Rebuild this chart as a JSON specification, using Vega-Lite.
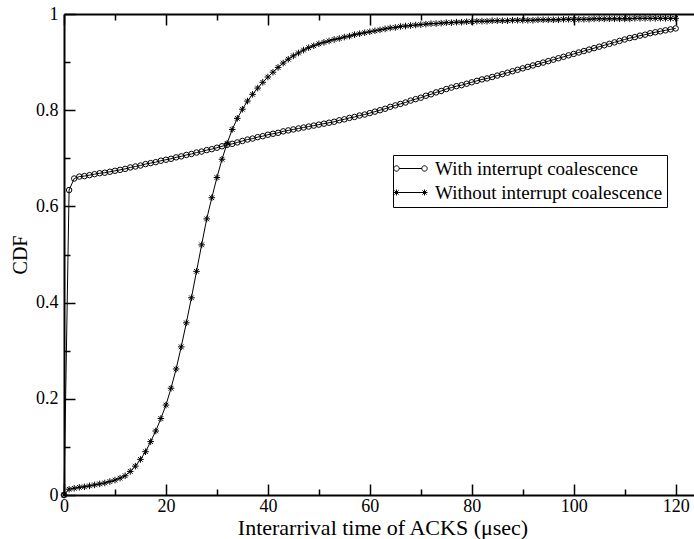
{
  "$schema": "https://vega.github.io/schema/vega-lite/v6.json",
  "width": 630,
  "height": 481,
  "autosize": {"type": "none"},
  "padding": {"left": 64, "top": 14, "right": 0, "bottom": 44},
  "background": "white",
  "config": {"view": {"stroke": null}, "font": "Liberation Serif",
    "axis": {"grid": false, "domainColor": "black", "domainWidth": 2, "tickColor": "black", "tickWidth": 1.5, "labelFont": "Liberation Serif", "labelColor": "black", "labelFlush": false, "labelOverlap": false, "titleFont": "Liberation Serif", "titleFontWeight": "normal", "titleColor": "black"}},
  "data": {"values": [
    {"x":0,"w":0,"wo":0},{"x":1,"w":0.634,"wo":0.012},{"x":2,"w":0.658,"wo":0.014},{"x":3,"w":0.662,"wo":0.016},{"x":4,"w":0.663,"wo":0.017},
    {"x":5,"w":0.665,"wo":0.019},{"x":6,"w":0.667,"wo":0.021},{"x":7,"w":0.669,"wo":0.023},{"x":8,"w":0.670,"wo":0.025},{"x":9,"w":0.672,"wo":0.028},
    {"x":10,"w":0.674,"wo":0.031},{"x":11,"w":0.676,"wo":0.035},{"x":12,"w":0.678,"wo":0.040},{"x":13,"w":0.681,"wo":0.049},{"x":14,"w":0.683,"wo":0.060},
    {"x":15,"w":0.685,"wo":0.074},{"x":16,"w":0.688,"wo":0.090},{"x":17,"w":0.690,"wo":0.111},{"x":18,"w":0.692,"wo":0.133},{"x":19,"w":0.695,"wo":0.159},
    {"x":20,"w":0.697,"wo":0.187},{"x":21,"w":0.699,"wo":0.222},{"x":22,"w":0.702,"wo":0.262},{"x":23,"w":0.704,"wo":0.308},{"x":24,"w":0.707,"wo":0.358},
    {"x":25,"w":0.709,"wo":0.410},{"x":26,"w":0.712,"wo":0.465},{"x":27,"w":0.714,"wo":0.520},{"x":28,"w":0.717,"wo":0.574},{"x":29,"w":0.719,"wo":0.618},
    {"x":30,"w":0.722,"wo":0.660},{"x":31,"w":0.725,"wo":0.698},{"x":32,"w":0.728,"wo":0.731},{"x":33,"w":0.730,"wo":0.760},{"x":34,"w":0.733,"wo":0.783},
    {"x":35,"w":0.736,"wo":0.802},{"x":36,"w":0.739,"wo":0.819},{"x":37,"w":0.741,"wo":0.833},{"x":38,"w":0.744,"wo":0.846},{"x":39,"w":0.746,"wo":0.858},
    {"x":40,"w":0.749,"wo":0.869},{"x":41,"w":0.751,"wo":0.879},{"x":42,"w":0.753,"wo":0.889},{"x":43,"w":0.756,"wo":0.898},{"x":44,"w":0.758,"wo":0.906},
    {"x":45,"w":0.760,"wo":0.913},{"x":46,"w":0.762,"wo":0.919},{"x":47,"w":0.764,"wo":0.925},{"x":48,"w":0.766,"wo":0.930},{"x":49,"w":0.768,"wo":0.934},
    {"x":50,"w":0.770,"wo":0.938},{"x":51,"w":0.772,"wo":0.941},{"x":52,"w":0.774,"wo":0.944},{"x":53,"w":0.776,"wo":0.947},{"x":54,"w":0.779,"wo":0.949},
    {"x":55,"w":0.781,"wo":0.952},{"x":56,"w":0.784,"wo":0.954},{"x":57,"w":0.786,"wo":0.957},{"x":58,"w":0.789,"wo":0.959},{"x":59,"w":0.791,"wo":0.961},
    {"x":60,"w":0.794,"wo":0.963},{"x":61,"w":0.797,"wo":0.965},{"x":62,"w":0.800,"wo":0.967},{"x":63,"w":0.803,"wo":0.969},{"x":64,"w":0.807,"wo":0.971},
    {"x":65,"w":0.810,"wo":0.972},{"x":66,"w":0.813,"wo":0.974},{"x":67,"w":0.816,"wo":0.975},{"x":68,"w":0.820,"wo":0.976},{"x":69,"w":0.823,"wo":0.977},
    {"x":70,"w":0.826,"wo":0.978},{"x":71,"w":0.830,"wo":0.979},{"x":72,"w":0.833,"wo":0.980},{"x":73,"w":0.837,"wo":0.980},{"x":74,"w":0.840,"wo":0.981},
    {"x":75,"w":0.844,"wo":0.982},{"x":76,"w":0.847,"wo":0.982},{"x":77,"w":0.850,"wo":0.983},{"x":78,"w":0.852,"wo":0.983},{"x":79,"w":0.855,"wo":0.984},
    {"x":80,"w":0.858,"wo":0.984},{"x":81,"w":0.861,"wo":0.985},{"x":82,"w":0.864,"wo":0.985},{"x":83,"w":0.866,"wo":0.985},{"x":84,"w":0.869,"wo":0.986},
    {"x":85,"w":0.872,"wo":0.986},{"x":86,"w":0.875,"wo":0.986},{"x":87,"w":0.878,"wo":0.986},{"x":88,"w":0.881,"wo":0.987},{"x":89,"w":0.884,"wo":0.987},
    {"x":90,"w":0.887,"wo":0.987},{"x":91,"w":0.890,"wo":0.987},{"x":92,"w":0.893,"wo":0.987},{"x":93,"w":0.896,"wo":0.988},{"x":94,"w":0.899,"wo":0.988},
    {"x":95,"w":0.902,"wo":0.988},{"x":96,"w":0.905,"wo":0.988},{"x":97,"w":0.908,"wo":0.988},{"x":98,"w":0.911,"wo":0.989},{"x":99,"w":0.914,"wo":0.989},
    {"x":100,"w":0.917,"wo":0.989},{"x":101,"w":0.920,"wo":0.989},{"x":102,"w":0.923,"wo":0.989},{"x":103,"w":0.926,"wo":0.989},{"x":104,"w":0.929,"wo":0.990},
    {"x":105,"w":0.932,"wo":0.990},{"x":106,"w":0.935,"wo":0.990},{"x":107,"w":0.938,"wo":0.990},{"x":108,"w":0.941,"wo":0.990},{"x":109,"w":0.944,"wo":0.990},
    {"x":110,"w":0.947,"wo":0.990},{"x":111,"w":0.950,"wo":0.990},{"x":112,"w":0.952,"wo":0.991},{"x":113,"w":0.955,"wo":0.991},{"x":114,"w":0.957,"wo":0.991},
    {"x":115,"w":0.960,"wo":0.991},{"x":116,"w":0.962,"wo":0.991},{"x":117,"w":0.964,"wo":0.991},{"x":118,"w":0.966,"wo":0.991},{"x":119,"w":0.968,"wo":0.991},
    {"x":120,"w":0.970,"wo":0.991}
  ]},
  "transform": [{"fold": ["w", "wo"], "as": ["series", "cdf"]}],
  "layer": [
    {
      "transform": [{"filter": "datum.series === 'w'"}],
      "mark": {"type": "line", "color": "black", "strokeWidth": 1},
      "encoding": {
        "x": {"field": "x", "type": "quantitative", "scale": {"domain": [0, 123.6], "nice": false, "zero": false},
          "axis": {"orient": "top", "values": [0,20,40,60,80,100,120], "labels": false, "title": null, "tickSize": -11}},
        "y": {"field": "cdf", "type": "quantitative", "scale": {"domain": [0, 1], "nice": false},
          "axis": {"orient": "left", "values": [0,0.2,0.4,0.6,0.8,1], "tickSize": -11, "format": "~g",
            "labelFontSize": 18, "labelPadding": 17,
            "title": "CDF", "titleFontSize": 20, "titleX": -44, "titleY": 240.5, "titleBaseline": "middle", "titleAngle": -90}}
      }
    },
    {
      "transform": [{"filter": "datum.series === 'wo'"}],
      "mark": {"type": "line", "color": "black", "strokeWidth": 1},
      "encoding": {
        "x": {"field": "x", "type": "quantitative",
          "axis": {"orient": "top", "values": [10,30,50,70,90,110], "labels": false, "title": null, "domain": false, "tickSize": -6}},
        "y": {"field": "cdf", "type": "quantitative",
          "axis": {"orient": "left", "values": [0.1,0.3,0.5,0.7,0.9], "labels": false, "title": null, "domain": false, "tickSize": -6}}
      }
    },
    {
      "transform": [{"filter": "datum.series === 'w'"}],
      "mark": {"type": "point", "filled": false, "strokeWidth": 1, "size": 30, "opacity": 1},
      "encoding": {
        "x": {"field": "x", "type": "quantitative",
          "axis": {"orient": "bottom", "values": [0,20,40,60,80,100,120], "tickSize": -11,
            "labelFontSize": 18, "labelPadding": 13,
            "title": "Interarrival time of ACKS (μsec)", "titleFontSize": 22, "titleX": 318.5, "titleY": 39, "titleBaseline": "alphabetic"}},
        "y": {"field": "cdf", "type": "quantitative", "axis": null},
        "color": {"field": "series", "type": "nominal",
          "scale": {"domain": ["w", "wo"], "range": ["black", "black"]},
          "legend": {"orient": "none", "legendX": 329, "legendY": 141, "title": null, "padding": 4,
            "strokeColor": "black", "fillColor": "white", "cornerRadius": 0,
            "labelFont": "Liberation Serif", "labelFontSize": 19, "labelColor": "black", "labelLimit": 0,
            "labelExpr": "datum.value === 'w' ? 'With interrupt coalescence' : 'Without interrupt coalescence'",
            "symbolSize": 225, "symbolStrokeColor": "black", "symbolFillColor": "transparent", "symbolStrokeWidth": 1,
            "symbolOffset": 4, "labelOffset": 15, "rowPadding": 4,
            "symbolType": {"expr": "datum.value === 'w' ? 'M-2.23,0A0.36,0.36 0 1,0 -1.51,0A0.36,0.36 0 1,0 -2.23,0M-1.51,0L1.51,0M1.51,0A0.36,0.36 0 1,0 2.23,0A0.36,0.36 0 1,0 1.51,0' : 'M-2.27,0L2.27,0M-1.87,-0.4L-1.87,0.4M1.87,-0.4L1.87,0.4M-2.15,-0.28L-1.59,0.28M-2.15,0.28L-1.59,-0.28M1.59,-0.28L2.15,0.28M1.59,0.28L2.15,-0.28'"}}}
      }
    },
    {
      "transform": [{"filter": "datum.series === 'wo'"}],
      "mark": {"type": "point", "shape": "M-1.2,0L1.2,0M0,-1.2L0,1.2M-0.85,-0.85L0.85,0.85M-0.85,0.85L0.85,-0.85", "filled": false, "color": "black", "strokeWidth": 1, "size": 30, "opacity": 1},
      "encoding": {
        "x": {"field": "x", "type": "quantitative",
          "axis": {"orient": "bottom", "values": [10,30,50,70,90,110], "labels": false, "title": null, "domain": false, "tickSize": -6}},
        "y": {"field": "cdf", "type": "quantitative", "axis": null}
      }
    }
  ],
  "resolve": {"axis": {"x": "independent", "y": "independent"}}
}
